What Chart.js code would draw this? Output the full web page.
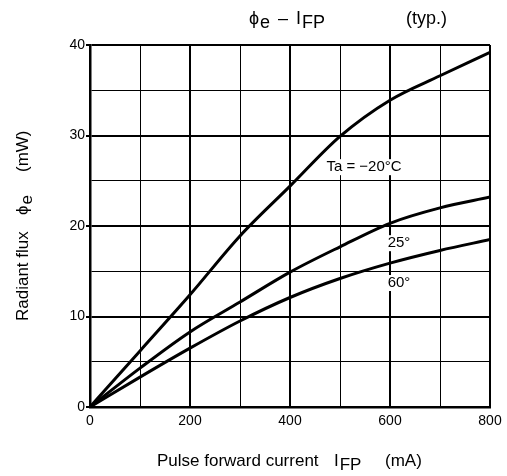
<!DOCTYPE html>
<html>
<head>
<meta charset="utf-8">
<script src="https://cdn.jsdelivr.net/npm/chart.js@4/dist/chart.umd.min.js"></script>
<style>
  html, body { margin: 0; padding: 0; background: #fff; }
  #wrap { width: 507px; height: 476px; }
</style>
</head>
<body>
<div id="wrap"><canvas id="FluxChart" width="507" height="476"></canvas></div>
<script>
// pulse forward current (mA)
const current = [0, 100, 200, 300, 400, 500, 600, 700, 800];
// radiant flux (mW) per ambient temperature
const fluxMinus20 = [0, 6.2, 12.4, 18.9, 24.4, 29.9, 33.9, 36.6, 39.2];
const flux25 = [0, 4.3, 8.3, 11.6, 14.9, 17.7, 20.3, 22.0, 23.2];
const flux60 = [0, 3.3, 6.5, 9.5, 12.1, 14.2, 15.9, 17.3, 18.5];
const seriesNames = ['Ta = \u221220\u00b0C', '25\u00b0', '60\u00b0'];
const xTicks = [0, 200, 400, 600, 800];
const yTicks = [0, 10, 20, 30, 40];

const FONT = '"Liberation Sans", Arial, sans-serif';
const PHI = '\u03d5';

function toPoints(ys) {
    return current.map((x, i) => ({ x: x, y: ys[i] }));
}

// curve labels, placed in data coordinates
const curveLabels = [
    { text: seriesNames[0], x: 548, y: 26.5 },
    { text: seriesNames[1], x: 618, y: 18.1 },
    { text: seriesNames[2], x: 618, y: 13.7 }
];

// draws text pieces; a piece without x follows the previous one
function drawPieces(ctx, pieces, y, size) {
    let x = 0;
    ctx.font = size + 'px ' + FONT;
    pieces.forEach(p => {
        if (p.x !== undefined) x = p.x;
        ctx.fillText(p.t, x, y + (p.sub ? 4 : 0));
        x += ctx.measureText(p.t).width + (p.gap || 0);
    });
}

const textPlugin = {
    id: 'textPlugin',
    afterDatasetsDraw(chart) {
        const ctx = chart.ctx;
        const xs = chart.scales.x, ys = chart.scales.y;
        ctx.save();
        ctx.fillStyle = '#000';
        ctx.textBaseline = 'middle';
        ctx.textAlign = 'left';

        // curve labels with white backing
        ctx.font = '15px ' + FONT;
        curveLabels.forEach(l => {
            const px = xs.getPixelForValue(l.x);
            const py = ys.getPixelForValue(l.y);
            const w = ctx.measureText(l.text).width;
            ctx.fillStyle = '#fff';
            ctx.fillRect(px - w / 2 - 2, py - 8, w + 4, 16);
            ctx.fillStyle = '#000';
            ctx.fillText(l.text, px - w / 2, py);
        });

        // title
        drawPieces(ctx, [
            { t: PHI, x: 249, gap: 1 }, { t: 'e', sub: true }, { t: '\u2013', x: 278 },
            { t: 'I', x: 296, gap: 1 }, { t: 'FP', sub: true },
            { t: '(typ.)', x: 406 }
        ], 19, 18);

        // x axis title
        drawPieces(ctx, [
            { t: 'Pulse forward current', x: 157 }, { t: 'I', x: 334, gap: 1 },
            { t: 'FP', sub: true }, { t: '(mA)', x: 385 }
        ], 461, 17);

        // y axis title
        ctx.translate(23, 0);
        ctx.rotate(-Math.PI / 2);
        drawPieces(ctx, [
            { t: 'Radiant flux', x: -321 }, { t: PHI, x: -215, gap: 1 },
            { t: 'e', sub: true }, { t: '(mW)', x: -172 }
        ], 0, 17);
        ctx.restore();
    }
};

const ctx = document.getElementById('FluxChart').getContext('2d');
new Chart(ctx, {
    type: 'line',
    data: {
        datasets: [
            { label: seriesNames[0], data: toPoints(fluxMinus20) },
            { label: seriesNames[1], data: toPoints(flux25) },
            { label: seriesNames[2], data: toPoints(flux60) }
        ].map(d => Object.assign(d, {
            borderColor: '#000',
            borderWidth: 3,
            pointRadius: 0,
            fill: false,
            cubicInterpolationMode: 'monotone'
        }))
    },
    options: {
        responsive: false,
        animation: false,
        events: [],
        layout: { padding: { top: 45, right: 17, left: 0, bottom: 0 } },
        plugins: { legend: { display: false }, tooltip: { enabled: false } },
        scales: {
            x: {
                type: 'linear',
                min: 0, max: 800,
                afterFit(scale) { scale.height = 69; },
                ticks: {
                    stepSize: 100,
                    color: '#000',
                    font: { family: FONT, size: 14 },
                    padding: 2,
                    maxRotation: 0,
                    autoSkip: false,
                    callback: v => xTicks.includes(v) ? v : ''
                },
                grid: {
                    color: '#000',
                    tickColor: 'rgba(0,0,0,0)',
                    tickLength: 4,
                    lineWidth: c => (c.tick && c.tick.value % 200 === 0) ? 2 : 1
                },
                border: { color: '#000', width: 2.5 }
            },
            y: {
                min: 0, max: 40,
                afterFit(scale) { scale.width = 90; },
                ticks: {
                    stepSize: 5,
                    color: '#000',
                    font: { family: FONT, size: 14 },
                    padding: 1,
                    autoSkip: false,
                    callback: v => yTicks.includes(v) ? v : ''
                },
                grid: {
                    color: '#000',
                    tickLength: 4,
                    tickColor: c => (c.tick && c.tick.value % 10 === 0) ? '#000' : 'rgba(0,0,0,0)',
                    lineWidth: c => (c.tick && c.tick.value % 10 === 0) ? 2 : 1
                },
                border: { color: '#000', width: 2.5 }
            }
        }
    },
    plugins: [textPlugin]
});
</script>
</body>
</html>
